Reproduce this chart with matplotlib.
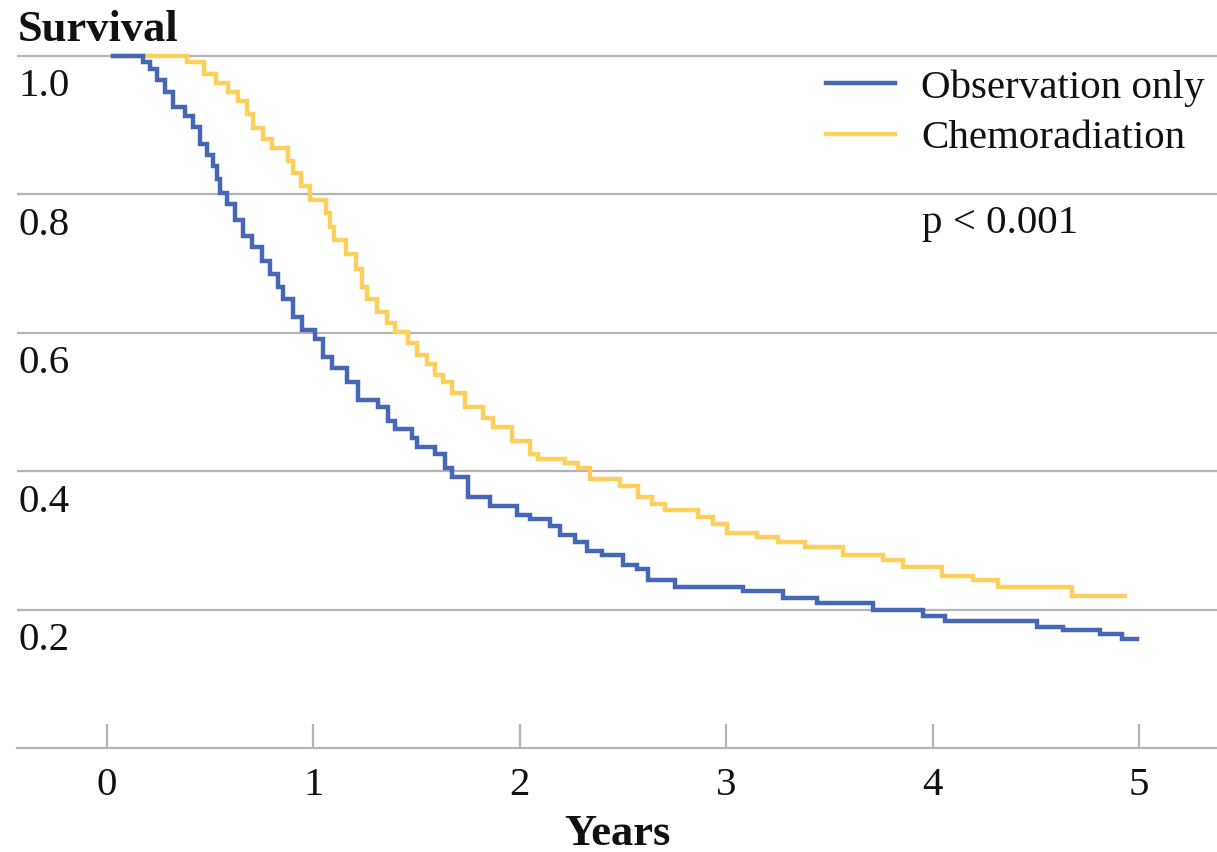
import matplotlib
matplotlib.use("Agg")
import matplotlib.pyplot as plt
from matplotlib.transforms import blended_transform_factory

plt.rcParams['font.family'] = ['Liberation Serif', 'DejaVu Serif']

# ---- data ----
obs_t = [0.03, 0.174, 0.208, 0.242, 0.281, 0.320, 0.378, 0.417, 0.451, 0.484,
         0.514, 0.533, 0.547, 0.581, 0.620, 0.659, 0.703, 0.751, 0.790, 0.829,
         0.853, 0.901, 0.945, 1.008, 1.047, 1.090, 1.163, 1.216, 1.313, 1.361,
         1.395, 1.478, 1.502, 1.589, 1.638, 1.672, 1.749, 1.856, 1.986, 2.049,
         2.146, 2.195, 2.267, 2.326, 2.398, 2.500, 2.568, 2.621, 2.752, 3.081,
         3.275, 3.440, 3.711, 3.953, 4.060, 4.506, 4.632, 4.811, 4.918, 4.990]
obs_s = [1.000, 0.991, 0.980, 0.965, 0.948, 0.926, 0.912, 0.897, 0.872, 0.857,
         0.840, 0.821, 0.802, 0.785, 0.763, 0.740, 0.723, 0.703, 0.684, 0.666,
         0.648, 0.623, 0.604, 0.590, 0.565, 0.549, 0.529, 0.503, 0.493, 0.472,
         0.460, 0.448, 0.434, 0.424, 0.405, 0.391, 0.363, 0.349, 0.337, 0.330,
         0.320, 0.308, 0.298, 0.285, 0.279, 0.264, 0.258, 0.243, 0.233, 0.226,
         0.217, 0.209, 0.199, 0.190, 0.184, 0.175, 0.170, 0.164, 0.158, 0.158]

chemo_t = [0.03, 0.388, 0.470, 0.528, 0.586, 0.635, 0.678, 0.707, 0.756, 0.799,
           0.877, 0.901, 0.940, 0.984, 1.061, 1.080, 1.100, 1.158, 1.206, 1.235,
           1.260, 1.308, 1.357, 1.395, 1.458, 1.502, 1.550, 1.589, 1.628, 1.672,
           1.735, 1.822, 1.870, 1.962, 2.049, 2.088, 2.219, 2.282, 2.340, 2.485,
           2.573, 2.641, 2.703, 2.863, 2.936, 3.004, 3.149, 3.251, 3.382, 3.566,
           3.760, 3.857, 4.045, 4.196, 4.317, 4.675, 4.932]
chemo_s = [1.000, 0.990, 0.974, 0.960, 0.948, 0.934, 0.915, 0.896, 0.880, 0.867,
           0.847, 0.830, 0.811, 0.792, 0.773, 0.753, 0.734, 0.714, 0.691, 0.665,
           0.648, 0.629, 0.614, 0.601, 0.585, 0.568, 0.554, 0.539, 0.529, 0.513,
           0.493, 0.477, 0.463, 0.443, 0.424, 0.418, 0.412, 0.404, 0.388, 0.379,
           0.363, 0.352, 0.344, 0.334, 0.323, 0.311, 0.305, 0.298, 0.290, 0.279,
           0.272, 0.261, 0.248, 0.243, 0.232, 0.219, 0.219]

series_labels = ["Observation only", "Chemoradiation"]
x_ticks = [0, 1, 2, 3, 4, 5]
y_grid = [0.2, 0.4, 0.6, 0.8, 1.0]
y_tick_labels = ["0.2", "0.4", "0.6", "0.8", "1.0"]
p_text = "p < 0.001"

BLUE = "#4666b6"
YELLOW = "#fdcf5c"
GRID = "#b4b4b4"

W, H = 1217, 852
fig = plt.figure(figsize=(W / 100, H / 100), dpi=100)
left_px, right_px, bottom_px = 17, 1217, 748
ax = fig.add_axes([left_px / W, (H - bottom_px) / H, (right_px - left_px) / W, (bottom_px - 20) / H])

x0_px, px_per_year = 107, 206.4
ax.set_xlim((left_px - x0_px) / px_per_year, (right_px - x0_px) / px_per_year)
ax.set_ylim(0, (bottom_px - 20) / 692.5)

for v in y_grid:
    ax.axhline(v, color=GRID, lw=1.6, zorder=1)

ax.step(chemo_t, chemo_s, where='post', color=YELLOW, lw=3.2, zorder=3,
        label=series_labels[1], solid_joinstyle='miter')
ax.step(obs_t, obs_s, where='post', color=BLUE, lw=3.2, zorder=4,
        label=series_labels[0], solid_joinstyle='miter')

for s in ['top', 'right', 'left']:
    ax.spines[s].set_visible(False)
ax.spines['bottom'].set_color(GRID)
ax.spines['bottom'].set_linewidth(1.6)

ax.set_yticks([])
ax.set_xticks(x_ticks)
ax.set_xticklabels([str(x) for x in x_ticks])
ax.tick_params(axis='x', direction='in', length=17, width=1.6, color=GRID,
               labelsize=29.5, pad=14, labelcolor='#111111')

trans = blended_transform_factory(ax.transAxes, ax.transData)
for v, lab in zip(y_grid, y_tick_labels):
    ax.text(0.001, v - 0.059, lab, transform=trans, ha='left', va='baseline',
            fontsize=29.5, color='#111111')

ax.set_xlabel("Years", fontsize=32, fontweight='bold', labelpad=7, color='#111111')
fig.text(18 / W, 1 - 41 / H, "Survival", fontsize=32, fontweight='bold',
         ha='left', va='baseline', color='#111111')

h, l = ax.get_legend_handles_labels()
leg = ax.legend(h[::-1], l[::-1], loc='upper left', frameon=False,
                bbox_to_anchor=(826 / W, 1 - 69 / H), bbox_transform=fig.transFigure,
                fontsize=29.5, handlelength=1.68, handletextpad=0.65,
                labelspacing=0.32, borderpad=0, borderaxespad=0)
for t in leg.get_texts():
    t.set_color('#111111')

fig.text(922 / W, 1 - 233 / H, p_text, fontsize=29.5, ha='left', va='baseline',
         color='#111111')

fig.savefig("out.png", dpi=100)
